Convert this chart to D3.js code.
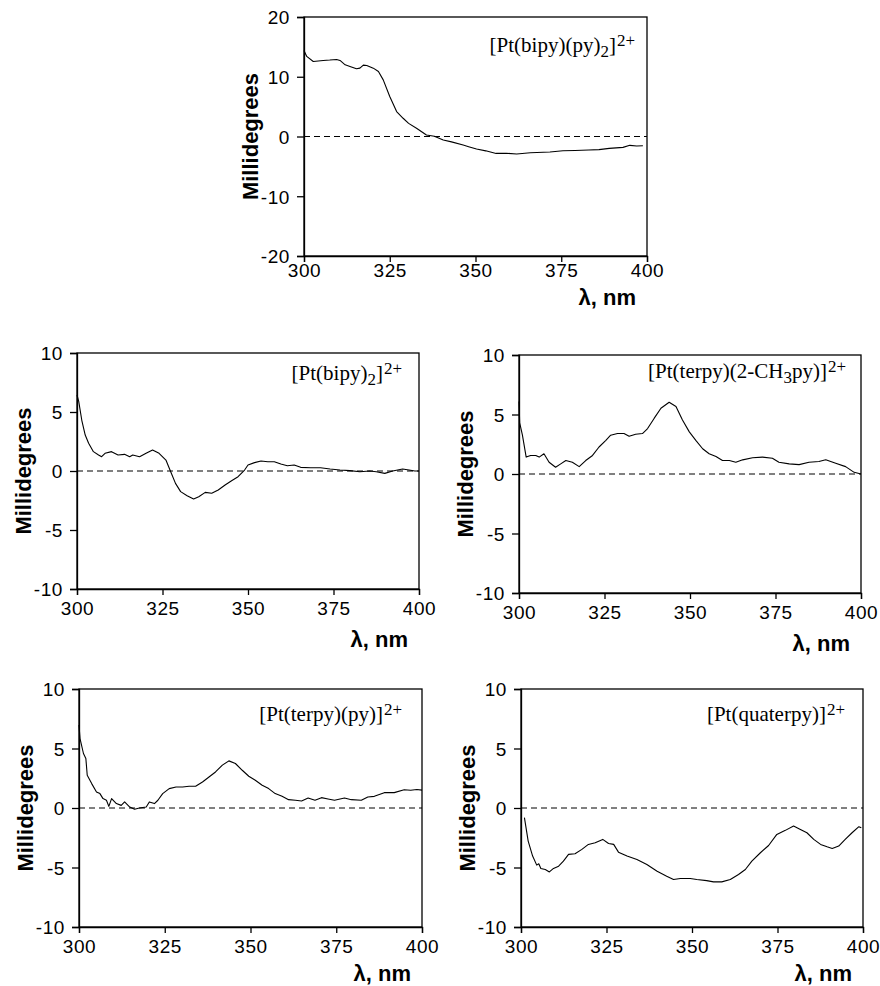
<!DOCTYPE html>
<html>
<head>
<meta charset="utf-8">
<script src="https://cdn.jsdelivr.net/npm/d3@7"></script>
<style>
  body { margin: 0; background: #fff; }
  .tick text { font-family: "Liberation Sans", Arial, Helvetica, sans-serif; font-size: 19px; letter-spacing: 0.6px; fill: #000; }
  .axlab { font-family: "Liberation Sans", Arial, Helvetica, sans-serif; font-weight: bold; font-size: 22px; }
  .ttl { font-family: "Liberation Serif", "Times New Roman", serif; font-size: 21px; }
</style>
</head>
<body>
<script>
// tick values
var xTicks = [300, 325, 350, 375, 400];
var yTicksTop = [-20, -10, 0, 10, 20];
var yTicksSmall = [-10, -5, 0, 5, 10];

// [Pt(bipy)(py)2]2+
var wlA = [300,300.8,302.7,305.6,307.5,309.5,310.5,312,313.4,315.3,316.3,317.3,318.3,320.2,321.7,323.1,325,327,328.9,330.5,332.8,335.7,338,340.6,343,346.4,348,350.3,353,356,359,362,366,371.7,375.5,379,383,386,389,393,395,397,398.8];
var mdA = [14.4,13.4,12.56,12.73,12.8,12.9,12.73,12.0,11.73,11.33,11.44,11.94,11.89,11.44,10.88,9.48,6.69,4.17,3.05,2.2,1.37,0.25,0.05,-0.59,-0.9,-1.43,-1.7,-2.1,-2.4,-2.83,-2.8,-2.94,-2.71,-2.6,-2.38,-2.35,-2.27,-2.2,-1.99,-1.82,-1.48,-1.6,-1.54];

// [Pt(bipy)2]2+
var wlB = [300,300.5,301.4,302.4,303.4,304.8,306.3,307.2,308.2,310.1,312,313.9,315.4,316.3,318.3,320.2,322.1,324,326,327.4,328.8,330.3,332.2,334.1,335.6,337.5,339.4,341.3,343.3,345.2,347.1,349,350,351.9,353.8,355.8,357.7,359.6,361.5,363.5,365.4,368.3,371.2,374,376.9,379.8,382.7,385.6,387.5,390,392.3,395.2,397.1,398.8,400];
var mdB = [6.44,5.9,4.3,3.05,2.35,1.64,1.36,1.21,1.5,1.64,1.36,1.41,1.21,1.36,1.21,1.5,1.78,1.5,0.93,-0.06,-1.05,-1.75,-2.09,-2.37,-2.18,-1.81,-1.89,-1.61,-1.19,-0.82,-0.48,0.08,0.51,0.71,0.85,0.79,0.79,0.59,0.45,0.51,0.31,0.28,0.28,0.17,0.08,0.03,-0.06,0,-0.06,-0.2,0,0.17,0.08,0,0];

// [Pt(terpy)(2-CH3py)]2+
var wlC = [300,300.2,301,302.1,303.4,304.9,305.9,307.3,308.8,310.7,312.2,313.7,315.6,317.6,319.5,321.5,323.4,325.4,326.8,328.8,330.7,332.2,334.1,336.1,337.6,339.5,341.5,343.9,345.9,347.8,349.8,351.7,353.7,355.6,357.6,359.5,361.5,363.4,365.4,368.3,371.2,374.1,376,379,381.9,384.8,387.7,389.7,392.6,395.5,398,400];
var mdC = [6.1,4.3,3.26,1.42,1.56,1.56,1.42,1.7,0.99,0.57,0.85,1.13,0.99,0.62,1.13,1.56,2.27,2.83,3.26,3.4,3.4,3.17,3.34,3.4,3.82,4.67,5.52,6.03,5.67,4.53,3.54,2.83,2.12,1.7,1.47,1.13,1.13,0.99,1.19,1.36,1.42,1.33,0.99,0.85,0.79,0.99,1.05,1.19,0.91,0.62,0.14,0];

// [Pt(terpy)(py)]2+
var wlD = [300,300.3,301.3,302,302.4,303.7,305.1,306.1,307,308,308.7,309.5,310.9,312.3,313.3,314.8,316.2,317.6,319.6,320.5,322,323,324.4,326.3,328.3,330.2,332.1,334,336,337.9,339.8,341.8,343.7,345.6,347.6,349.5,351.4,353.4,355.3,357.2,359.2,361.1,363.1,364.9,366.8,368.8,370.7,372.6,374.5,377.4,379.4,382.3,384.2,386.1,389,391.9,394.8,396.7,398.5,400];
var mdD = [6.97,5.84,4.58,4.16,2.75,2.05,1.35,1.21,0.79,0.65,0.14,0.79,0.37,0.22,0.51,0.08,-0.11,0,0.08,0.51,0.37,0.65,1.21,1.63,1.77,1.77,1.83,1.83,2.19,2.61,3.03,3.6,3.96,3.74,3.17,2.67,2.33,1.91,1.63,1.21,0.98,0.7,0.65,0.59,0.84,0.65,0.87,0.76,0.65,0.84,0.7,0.65,0.93,0.98,1.29,1.29,1.54,1.49,1.55,1.5];

// [Pt(quaterpy)]2+
var wlE = [301,302.1,303.4,304.6,305.2,305.8,307.1,308.3,309.5,311,312.4,313.9,315.8,317.8,319.7,321.7,323.9,325.6,327.1,328.5,331,333.9,336.8,339.8,342.6,344.6,346.6,349.5,351.4,354.3,356.3,358.7,361.2,363.6,365.6,367.5,370,372.4,374.8,377.3,379.7,381.7,383.6,385.6,387.6,389.5,391,392.9,394.8,396.8,398.8,399.5];
var mdE = [-0.81,-2.78,-4.04,-4.8,-4.69,-5.08,-5.17,-5.37,-5.08,-4.89,-4.47,-3.9,-3.85,-3.48,-3.06,-2.92,-2.64,-2.98,-3.06,-3.71,-4.04,-4.33,-4.75,-5.31,-5.73,-6.01,-5.93,-5.93,-6.01,-6.1,-6.21,-6.21,-6.01,-5.59,-5.17,-4.47,-3.76,-3.15,-2.22,-1.88,-1.52,-1.8,-2.08,-2.64,-3.06,-3.26,-3.4,-3.2,-2.64,-2.08,-1.57,-1.66];

// title pieces: [text, kind]  kind: n normal, b subscript, p superscript
var titleA = [["[Pt(bipy)(py)","n"],["2","b"],["]","n"],["2+","p"]];
var titleB = [["[Pt(bipy)","n"],["2","b"],["]","n"],["2+","p"]];
var titleC = [["[Pt(terpy)(2-CH","n"],["3","b"],["py)]","n"],["2+","p"]];
var titleD = [["[Pt(terpy)(py)]","n"],["2+","p"]];
var titleE = [["[Pt(quaterpy)]","n"],["2+","p"]];

var svg = d3.select("body").append("svg").attr("width", 880).attr("height", 986);
svg.append("rect").attr("width", 880).attr("height", 986).attr("fill", "#fff");

var panels = [
  {l:304, r:647, t:17,  b:256, wl:wlA, md:mdA, yt:yTicksTop,   title:titleA, tdx:12, tdy:35, lab:24, lam:49},
  {l:77,  r:419, t:353, b:589, wl:wlB, md:mdB, yt:yTicksSmall, title:titleB, tdx:17, tdy:27, lab:29, lam:58},
  {l:519, r:861, t:355, b:593, wl:wlC, md:mdC, yt:yTicksSmall, title:titleC, tdx:15, tdy:23, lab:29, lam:58},
  {l:79,  r:422, t:689, b:927, wl:wlD, md:mdD, yt:yTicksSmall, title:titleD, tdx:20, tdy:32, lab:29, lam:54},
  {l:521, r:863, t:689, b:927, wl:wlE, md:mdE, yt:yTicksSmall, title:titleE, tdx:18, tdy:32, lab:29, lam:54}
];

panels.forEach(function(p) {
  var x = d3.scaleLinear().domain([300, 400]).range([p.l, p.r]);
  var y = d3.scaleLinear().domain([p.yt[0], p.yt[p.yt.length - 1]]).range([p.b, p.t]);
  var g = svg.append("g");

  // frame
  g.append("rect").attr("x", p.l).attr("y", p.t).attr("width", p.r - p.l).attr("height", p.b - p.t)
    .attr("fill", "none").attr("stroke", "#000").attr("stroke-width", 1.3);

  // zero line
  g.append("line").attr("x1", p.l).attr("x2", p.r).attr("y1", y(0)).attr("y2", y(0))
    .attr("stroke", "#000").attr("stroke-width", 1).attr("stroke-dasharray", "6,4");

  var fmt = function(d) { return String(d); };
  var xa = g.append("g").attr("transform", "translate(0," + p.b + ")")
    .call(d3.axisBottom(x).tickValues(xTicks).tickSize(6).tickPadding(p.lab - 22).tickFormat(fmt));
  var ya = g.append("g").attr("transform", "translate(" + p.l + ",0)")
    .call(d3.axisLeft(y).tickValues(p.yt).tickSize(7).tickPadding(7).tickFormat(fmt));
  [xa, ya].forEach(function(a) {
    a.select(".domain").attr("stroke-width", 1.3);
    a.selectAll(".tick line").attr("stroke-width", 1.3);
    a.selectAll(".tick text").attr("font-size", null).attr("font-family", null);
  });
  ya.selectAll(".tick text").attr("dy", "0.36em");

  // curve
  var pts = p.wl.map(function(w, i) { return [w, p.md[i]]; });
  g.append("path").datum(pts)
    .attr("fill", "none").attr("stroke", "#000").attr("stroke-width", 1.1).attr("stroke-linejoin", "round")
    .attr("d", d3.line().x(function(d) { return x(d[0]); }).y(function(d) { return y(d[1]); }));

  // axis labels
  g.append("text").attr("class", "axlab").attr("text-anchor", "end")
    .attr("x", p.r - 11).attr("y", p.b + p.lam).text("\u03bb, nm");
  g.append("text").attr("class", "axlab").attr("text-anchor", "middle")
    .attr("transform", "translate(" + (p.l - 46) + "," + ((p.t + p.b) / 2) + ") rotate(-90)")
    .text("Millidegrees");

  // title
  var tt = g.append("text").attr("class", "ttl").attr("text-anchor", "end")
    .attr("x", p.r - p.tdx).attr("y", p.t + p.tdy);
  var shift = 0;
  p.title.forEach(function(part) {
    var target = part[1] === "b" ? 5 : part[1] === "p" ? -6 : 0;
    var ts = tt.append("tspan").attr("dy", target - shift).text(part[0]);
    if (part[1] !== "n") ts.attr("font-size", "17px");
    if (part[1] === "p") ts.attr("dx", 1);
    shift = target;
  });
});
</script>
</body>
</html>
